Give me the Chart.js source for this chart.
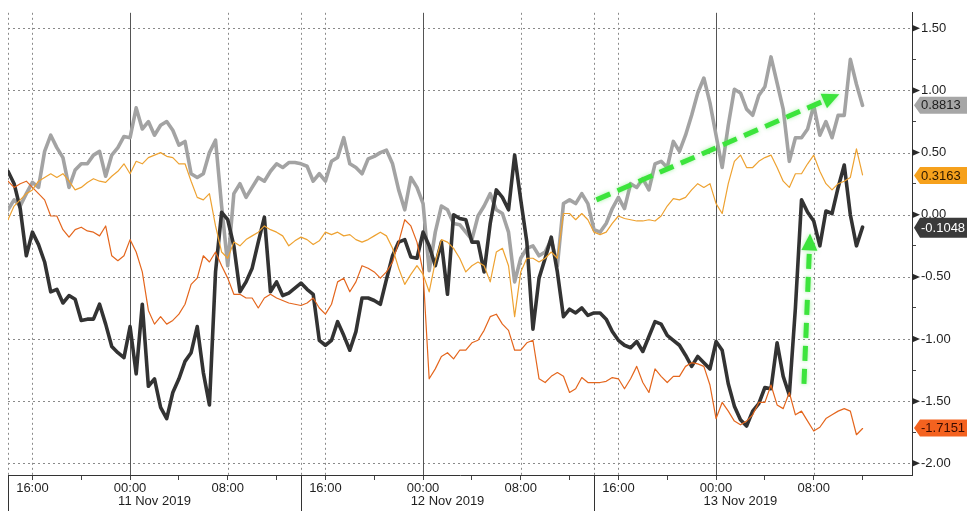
<!DOCTYPE html>
<html>
<head>
<meta charset="utf-8">
<script src="https://cdn.jsdelivr.net/npm/chart.js@4.4.1/dist/chart.umd.min.js"></script>
<style>
  html, body { margin: 0; padding: 0; background: #ffffff; }
</style>
</head>
<body>
<canvas id="chart" width="976" height="511"></canvas>
<script>
// time axis: hours after 14:00 on 10 Nov 2019, sampled every half hour
const hours = [];
for (let h = 0; h <= 70; h += 0.5) hours.push(h);

const grayValues = [
  0.04, 0.12, 0.07, 0.17, 0.26, 0.22, 0.51, 0.64, 0.54, 0.46, 0.22, 0.36, 0.41, 0.41, 0.48, 0.51, 0.31, 0.48, 0.54, 0.63, 0.62, 0.86, 0.69, 0.75, 0.64, 0.72, 0.75, 0.68, 0.56,
  0.59, 0.33, 0.30, 0.33, 0.50, 0.60, 0.07, -0.41, 0.17, 0.25, 0.14, 0.22, 0.30, 0.27, 0.35, 0.41, 0.38, 0.42, 0.42, 0.41, 0.39, 0.27, 0.33, 0.27, 0.43, 0.46, 0.62, 0.41, 0.38, 0.33,
  0.45, 0.47, 0.50, 0.52, 0.41, 0.20, 0.04, 0.30, 0.22, 0.09, -0.45, -0.14, 0.07, 0.04, -0.07, -0.08, -0.14, -0.20, -0.01, 0.07, 0.17, 0.04, 0.01, -0.14, -0.54, -0.35, -0.27, -0.25, -0.33,
  -0.30, -0.20, -0.41, 0.09, 0.12, 0.09, 0.17, 0.09, -0.12, -0.14, -0.07, 0.05, 0.14, 0.05, 0.25, 0.22, 0.29, 0.20, 0.41, 0.43, 0.38, 0.59, 0.51, 0.64, 0.80, 0.98, 1.10, 0.90, 0.64, 0.38,
  0.72, 1.01, 0.98, 0.85, 0.80, 0.96, 1.03, 1.27, 1.06, 0.85, 0.43, 0.62, 0.62, 0.69, 0.88, 0.64, 0.75, 0.62, 0.80, 0.80, 1.25, 1.05, 0.88
];

const yellowValues = [
  -0.04, 0.07, 0.12, 0.17, 0.20, 0.27, 0.30, 0.33, 0.30, 0.33, 0.27, 0.20, 0.22, 0.26, 0.29, 0.27, 0.26, 0.31, 0.35, 0.41, 0.33, 0.43, 0.41, 0.46, 0.48, 0.50, 0.47, 0.46, 0.41,
  0.41, 0.27, 0.14, 0.12, 0.17, -0.09, -0.30, -0.35, -0.22, -0.25, -0.20, -0.17, -0.14, -0.09, -0.12, -0.14, -0.17, -0.25, -0.21, -0.18, -0.20, -0.24, -0.21, -0.14, -0.16, -0.14, -0.17, -0.16, -0.20, -0.22,
  -0.20, -0.17, -0.14, -0.17, -0.27, -0.43, -0.56, -0.48, -0.41, -0.48, -0.62, -0.38, -0.20, -0.22, -0.27, -0.35, -0.46, -0.41, -0.38, -0.41, -0.54, -0.30, -0.27, -0.41, -0.82, -0.46, -0.35, -0.35, -0.38,
  -0.35, -0.30, -0.35, 0.01, 0.01, -0.04, 0.01, -0.04, -0.14, -0.16, -0.14, -0.07, -0.01, -0.03, -0.04, -0.05, -0.05, -0.04, -0.05, -0.01, 0.07, 0.13, 0.12, 0.14, 0.20, 0.25, 0.22, 0.25, 0.09, 0.01,
  0.25, 0.43, 0.48, 0.38, 0.38, 0.43, 0.46, 0.48, 0.38, 0.27, 0.22, 0.33, 0.33, 0.41, 0.48, 0.35, 0.25, 0.20, 0.25, 0.27, 0.30, 0.53, 0.32
];

const orangeValues = [
  0.27, 0.22, 0.25, 0.27, 0.22, 0.17, 0.12, -0.01, -0.01, -0.12, -0.18, -0.12, -0.10, -0.13, -0.14, -0.17, -0.09, -0.33, -0.37, -0.33, -0.20, -0.30, -0.46, -0.77, -0.88, -0.82, -0.88, -0.85, -0.80,
  -0.72, -0.56, -0.51, -0.33, -0.38, -0.30, -0.41, -0.51, -0.64, -0.64, -0.67, -0.67, -0.75, -0.67, -0.64, -0.67, -0.69, -0.71, -0.72, -0.73, -0.71, -0.67, -0.75, -0.80, -0.72, -0.54, -0.51, -0.62, -0.54, -0.41,
  -0.43, -0.46, -0.51, -0.46, -0.38, -0.22, -0.04, -0.09, -0.22, -0.46, -1.32, -1.24, -1.14, -1.11, -1.16, -1.09, -1.09, -1.03, -1.01, -0.93, -0.82, -0.80, -0.88, -0.93, -1.09, -1.09, -1.03, -1.01, -1.32,
  -1.35, -1.30, -1.27, -1.30, -1.43, -1.40, -1.31, -1.35, -1.35, -1.35, -1.34, -1.31, -1.32, -1.40, -1.32, -1.22, -1.35, -1.43, -1.24, -1.30, -1.35, -1.30, -1.30, -1.22, -1.19, -1.20, -1.22, -1.37, -1.64, -1.51,
  -1.58, -1.66, -1.69, -1.66, -1.61, -1.51, -1.51, -1.37, -1.53, -1.56, -1.43, -1.61, -1.58, -1.66, -1.74, -1.71, -1.64, -1.61, -1.58, -1.56, -1.58, -1.77, -1.72
];

const blackValues = [
  0.35, 0.25, 0.05, -0.33, -0.14, -0.24, -0.38, -0.62, -0.60, -0.71, -0.65, -0.68, -0.85, -0.84, -0.84, -0.72, -0.88, -1.06, -1.11, -1.15, -0.90, -1.28, -0.72, -1.38, -1.32, -1.55, -1.64, -1.43, -1.32,
  -1.18, -1.11, -0.90, -1.27, -1.53, -0.46, 0.02, -0.04, -0.25, -0.62, -0.54, -0.43, -0.22, -0.02, -0.62, -0.54, -0.65, -0.63, -0.59, -0.55, -0.60, -0.64, -1.01, -1.05, -1.01, -0.86, -0.97, -1.09, -0.94, -0.67,
  -0.67, -0.69, -0.72, -0.52, -0.33, -0.22, -0.20, -0.34, -0.35, -0.14, -0.25, -0.41, -0.22, -0.64, 0.00, -0.03, -0.04, -0.22, -0.22, -0.46, -0.07, 0.20, 0.14, 0.04, 0.48, 0.12, -0.22, -0.92, -0.51,
  -0.35, -0.18, -0.46, -0.82, -0.76, -0.79, -0.75, -0.81, -0.79, -0.79, -0.84, -0.94, -1.01, -1.05, -1.07, -1.02, -1.10, -0.98, -0.86, -0.88, -0.97, -1.01, -1.05, -1.13, -1.22, -1.14, -1.19, -1.24, -1.02, -1.09,
  -1.36, -1.54, -1.65, -1.70, -1.58, -1.52, -1.39, -1.40, -1.03, -1.30, -1.45, -0.75, 0.12, 0.02, -0.05, -0.25, 0.03, 0.01, 0.22, 0.40, 0.00, -0.25, -0.10
];

// last-value tags on the right axis
const tagLabels = ['0.8813', '0.3163', '-0.1048', '-1.7151'];
const tagFills = ['#a6a6a6', '#f6a11c', '#3a3a3a', '#f4621f'];
const tagText = ['#1e1e1e', '#2b1800', '#ffffff', '#3a0c00'];

// axis ticks
const yTickValues = [-2, -1.75, -1.5, -1.25, -1, -0.75, -0.5, -0.25, 0, 0.25, 0.5, 0.75, 1, 1.25, 1.5];
const timeTickHours = [2, 10, 18, 26, 34, 42, 50, 58, 66];
const timeTickLabels = ['16:00', '00:00', '08:00', '16:00', '00:00', '08:00', '16:00', '00:00', '08:00'];
const minorTickHours = [6, 14, 22, 30, 38, 46, 54, 62, 70];
const midnightHours = [10, 34, 58];
const sessionStarts = [0, 24, 48];
const dateLabels = ['11 Nov 2019', '12 Nov 2019', '13 Nov 2019'];

// green annotation arrows, [hour, value]
const arrowFrom = [[48.2, 0.12], [65.2, -1.36]];
const arrowTo = [[68.1, 0.97], [65.7, -0.15]];

const FONT = '"Liberation Sans", Arial, sans-serif';

function toPoints(vals) {
  return vals.map((v, i) => ({ x: hours[i], y: v }));
}

function isMajor(v) {
  return Math.abs(v * 2 - Math.round(v * 2)) < 1e-6;
}

function drawArrow(ctx, x0, y0, x1, y1) {
  const ang = Math.atan2(y1 - y0, x1 - x0);
  const headLen = 17, headW = 8;
  const bx = x1 - headLen * Math.cos(ang);
  const by = y1 - headLen * Math.sin(ang);
  ctx.setLineDash([15, 8]);
  ctx.beginPath();
  ctx.moveTo(x0, y0);
  ctx.lineTo(bx, by);
  ctx.stroke();
  ctx.setLineDash([]);
  ctx.beginPath();
  ctx.moveTo(x1, y1);
  ctx.lineTo(bx + headW * Math.sin(ang), by - headW * Math.cos(ang));
  ctx.lineTo(bx - headW * Math.sin(ang), by + headW * Math.cos(ang));
  ctx.closePath();
  ctx.fill();
}

const bloombergLook = {
  id: 'bloombergLook',
  beforeDatasetsDraw(chart) {
    const { ctx, chartArea: a, scales: { x, y } } = chart;
    ctx.save();
    ctx.lineWidth = 1;
    ctx.strokeStyle = '#8a8a8a';
    ctx.setLineDash([2, 3]);
    yTickValues.filter(isMajor).forEach(v => {
      const py = Math.round(y.getPixelForValue(v)) + 0.5;
      ctx.beginPath(); ctx.moveTo(a.left, py); ctx.lineTo(a.right, py); ctx.stroke();
    });
    const dotted = sessionStarts.concat(timeTickHours.filter(h => !midnightHours.includes(h)));
    dotted.forEach(h => {
      const px = Math.round(x.getPixelForValue(h)) + 0.5;
      ctx.beginPath(); ctx.moveTo(px, a.top); ctx.lineTo(px, a.bottom); ctx.stroke();
    });
    ctx.setLineDash([]);
    ctx.strokeStyle = '#555555';
    midnightHours.forEach(h => {
      const px = Math.round(x.getPixelForValue(h)) + 0.5;
      ctx.beginPath(); ctx.moveTo(px, a.top); ctx.lineTo(px, a.bottom); ctx.stroke();
    });
    ctx.restore();
  },
  afterDatasetsDraw(chart) {
    const { ctx, scales: { x, y } } = chart;
    ctx.save();
    ctx.strokeStyle = '#3ce43c';
    ctx.fillStyle = '#3ce43c';
    ctx.lineWidth = 5;
    ctx.shadowColor = 'rgba(90, 230, 90, 0.55)';
    ctx.shadowBlur = 4;
    arrowFrom.forEach((f, i) => {
      const t = arrowTo[i];
      drawArrow(ctx, x.getPixelForValue(f[0]), y.getPixelForValue(f[1]),
        x.getPixelForValue(t[0]), y.getPixelForValue(t[1]));
    });
    ctx.restore();
  },
  afterDraw(chart) {
    const { ctx, chartArea: a, scales: { x, y } } = chart;
    const H = chart.height;
    ctx.save();
    // session separators below the axis
    ctx.strokeStyle = '#333333';
    ctx.lineWidth = 1;
    sessionStarts.forEach(h => {
      const px = Math.round(x.getPixelForValue(h)) + 0.5;
      ctx.beginPath(); ctx.moveTo(px, a.bottom); ctx.lineTo(px, H); ctx.stroke();
    });
    // date row
    ctx.fillStyle = '#1e1e1e';
    ctx.font = '13px ' + FONT;
    ctx.textAlign = 'center';
    ctx.textBaseline = 'middle';
    dateLabels.forEach((d, i) => {
      const mid = (x.getPixelForValue(sessionStarts[i]) + x.getPixelForValue(sessionStarts[i] + 24)) / 2;
      ctx.fillText(d, mid, 501);
    });
    // arrow marks on the major y ticks
    ctx.fillStyle = '#2a2a2a';
    yTickValues.filter(isMajor).forEach(v => {
      const py = y.getPixelForValue(v);
      ctx.beginPath();
      ctx.moveTo(a.right, py - 3.5);
      ctx.lineTo(a.right + 8, py);
      ctx.lineTo(a.right, py + 3.5);
      ctx.closePath();
      ctx.fill();
    });
    // last value tags
    ctx.textAlign = 'left';
    tagLabels.forEach((lab, i) => {
      const py = y.getPixelForValue(parseFloat(lab));
      const hh = i === 2 ? 10 : 8.5;
      const left = a.right + 2, body = a.right + 8, right = a.right + 55;
      ctx.fillStyle = tagFills[i];
      ctx.beginPath();
      ctx.moveTo(left, py);
      ctx.lineTo(body, py - hh);
      ctx.lineTo(right, py - hh);
      ctx.lineTo(right, py + hh);
      ctx.lineTo(body, py + hh);
      ctx.closePath();
      ctx.fill();
      ctx.fillStyle = tagText[i];
      ctx.fillText(lab, a.right + 9, py + 0.5);
    });
    ctx.restore();
  }
};

new Chart(document.getElementById('chart'), {
  type: 'line',
  data: {
    datasets: [
      { label: 'Yellow', data: toPoints(yellowValues), borderColor: '#eea231', borderWidth: 1.2, order: 1 },
      { label: 'Orange', data: toPoints(orangeValues), borderColor: '#e4661d', borderWidth: 1.2, order: 2 },
      { label: 'Black', data: toPoints(blackValues), borderColor: '#333333', borderWidth: 3.6, order: 3 },
      { label: 'Gray', data: toPoints(grayValues), borderColor: '#a3a3a3', borderWidth: 3.6, order: 4 }
    ]
  },
  options: {
    responsive: false,
    animation: false,
    layout: { padding: { left: 8, top: 0, right: 0, bottom: 0 } },
    elements: {
      point: { radius: 0 },
      line: { tension: 0, borderJoinStyle: 'round', borderCapStyle: 'round' }
    },
    plugins: {
      legend: { display: false },
      tooltip: { enabled: false }
    },
    scales: {
      x: {
        type: 'linear',
        min: 0,
        max: 74.05,
        afterBuildTicks: s => {
          s.ticks = timeTickHours.concat(minorTickHours).sort((p, q) => p - q).map(v => ({ value: v }));
        },
        afterFit: s => { s.height = 36; },
        ticks: {
          autoSkip: false,
          maxRotation: 0,
          padding: 1,
          color: '#1e1e1e',
          font: { family: FONT, size: 13 },
          callback: v => {
            const i = timeTickHours.indexOf(v);
            return i >= 0 ? timeTickLabels[i] : '';
          }
        },
        grid: { drawOnChartArea: false, drawTicks: true, tickLength: 5, tickColor: '#444444' },
        border: { display: true, color: '#333333', width: 1 }
      },
      y: {
        position: 'right',
        min: -2.094,
        max: 1.625,
        afterBuildTicks: s => { s.ticks = yTickValues.map(v => ({ value: v })); },
        afterFit: s => { s.width = 64; },
        ticks: {
          padding: 5,
          color: '#1e1e1e',
          font: { family: FONT, size: 13 },
          callback: v => isMajor(v) ? v.toFixed(2) : ''
        },
        grid: {
          drawOnChartArea: false,
          drawTicks: true,
          tickLength: 4,
          tickColor: c => (c.tick && isMajor(c.tick.value)) ? 'rgba(0,0,0,0)' : '#444444'
        },
        border: { display: true, color: '#333333', width: 1 }
      }
    }
  },
  plugins: [bloombergLook]
});
</script>
</body>
</html>
